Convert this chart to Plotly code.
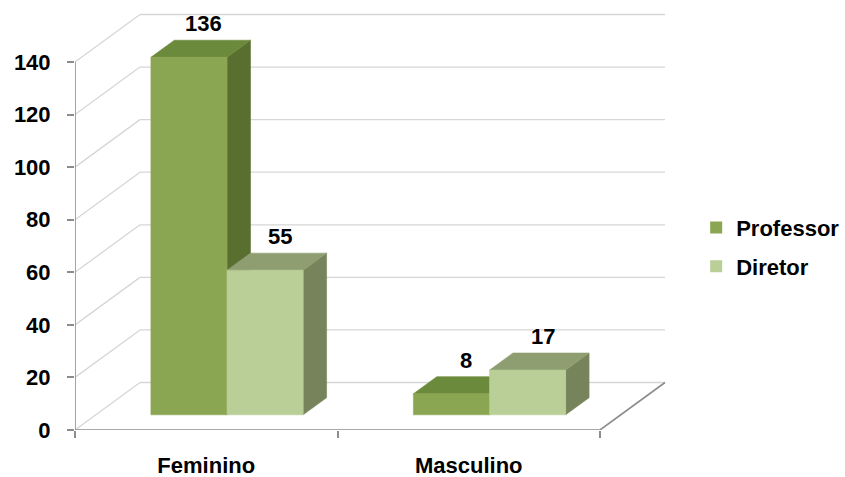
import plotly.graph_objects as go

# ---- data -------------------------------------------------------------
categories = ["Feminino", "Masculino"]
series_names = ["Professor", "Diretor"]
professor = [136, 8]
diretor = [55, 17]
y_ticks = [0, 20, 40, 60, 80, 100, 120, 140]

# ---- styling ----------------------------------------------------------
# face colours per series: (front, top, side)
face_colors = {
    "Professor": ("#8BA652", "#6C8A3B", "#586F2F"),
    "Diretor": ("#B9CF97", "#8E9E70", "#77845B"),
}
GRID = "#D6D6D6"
AXIS = "#8C8C8C"
FONT = dict(family="Liberation Sans, Arial, sans-serif", size=22, color="#000000", weight="bold")

# oblique projection: a point at depth d (0 = front plane, 1 = back wall)
# is shifted right and up in axis units
DEPTH_X = 0.2476
DEPTH_Y = 18.07
BAR_D0, BAR_D1 = 0.32, 0.68
BAR_W = 0.29
LABEL_D = 0.55


def proj(x, v, d):
    return x + d * DEPTH_X, v + d * DEPTH_Y


def polygon(points):
    xs, ys = [], []
    for x, v, d in points:
        px, py = proj(x, v, d)
        xs.append(px)
        ys.append(py)
    xs.append(xs[0])
    ys.append(ys[0])
    return xs, ys


def segments(pairs):
    xs, ys = [], []
    for a, b in pairs:
        for p in (a, b):
            px, py = proj(*p)
            xs.append(px)
            ys.append(py)
        xs.append(None)
        ys.append(None)
    return xs, ys


fig = go.Figure()
n_cat = len(categories)

# walls: gridlines on the side wall and the back wall
grid_pairs = []
for v in y_ticks:
    grid_pairs.append(((0, v, 0), (0, v, 1)))
    grid_pairs.append(((0, v, 1), (n_cat, v, 1)))
gx, gy = segments(grid_pairs)
fig.add_trace(go.Scatter(x=gx, y=gy, mode="lines", line=dict(color=GRID, width=1.3),
                         hoverinfo="skip", showlegend=False, cliponaxis=False))

# floor edge on the right and the two front axis lines
ex, ey = segments([((n_cat, 0, 0), (n_cat, 0, 1)),
                   ((0, 0, 0), (0, y_ticks[-1], 0)),
                   ((0, 0, 0), (n_cat, 0, 0))])
fig.add_trace(go.Scatter(x=ex, y=ey, mode="lines", line=dict(color=AXIS, width=1.6),
                         hoverinfo="skip", showlegend=False, cliponaxis=False))

# 3-D bars, drawn back to front so nearer faces cover farther ones
series_values = {"Professor": professor, "Diretor": diretor}
for i in range(n_cat):
    for s, name in enumerate(series_names):
        v = series_values[name][i]
        front_c, top_c, side_c = face_colors[name]
        x0 = i + 0.5 - BAR_W + s * BAR_W
        x1 = x0 + BAR_W
        faces = [
            (side_c, [(x1, 0, BAR_D0), (x1, 0, BAR_D1), (x1, v, BAR_D1), (x1, v, BAR_D0)]),
            (top_c, [(x0, v, BAR_D0), (x1, v, BAR_D0), (x1, v, BAR_D1), (x0, v, BAR_D1)]),
            (front_c, [(x0, 0, BAR_D0), (x1, 0, BAR_D0), (x1, v, BAR_D0), (x0, v, BAR_D0)]),
        ]
        for color, pts in faces:
            px, py = polygon(pts)
            fig.add_trace(go.Scatter(x=px, y=py, mode="lines", fill="toself",
                                     fillcolor=color, line=dict(color=color, width=0.6),
                                     hoverinfo="skip", showlegend=False))
        lx, ly = proj((x0 + x1) / 2, v, LABEL_D)
        fig.add_annotation(x=lx, y=ly, text=str(v), showarrow=False,
                           xanchor="center", yanchor="bottom", yshift=8, font=FONT)

# legend entries
for name in series_names:
    fig.add_trace(go.Bar(x=[None], y=[None], name=name, legendgroup=name,
                         marker=dict(color=face_colors[name][0], line=dict(width=0))))

PX_PER_UNIT = (430 - 62) / 140
plot_h = 425
fig.update_layout(
    width=845, height=477,
    margin=dict(l=75, r=140, t=477 - 47 - plot_h, b=47, autoexpand=False),
    paper_bgcolor="#FFFFFF", plot_bgcolor="#FFFFFF",
    font=FONT,
    showlegend=True,
    legend=dict(x=0.986, xanchor="left", y=0.43, yanchor="middle",
                traceorder="grouped", tracegroupgap=7, font=FONT,
                bgcolor="rgba(0,0,0,0)", itemclick=False, itemdoubleclick=False),
    xaxis=dict(type="linear", range=[0, 2.4], showgrid=False, zeroline=False, showline=False,
               tickmode="array", tickvals=[i + 0.5 for i in range(n_cat)], ticktext=categories,
               ticks="", ticklabelstandoff=20, automargin=False, fixedrange=True,
               minor=dict(tickmode="array", tickvals=list(range(n_cat + 1)), ticks="outside",
                          ticklen=7, tickwidth=1.6, tickcolor=AXIS, showgrid=False)),
    yaxis=dict(type="linear", range=[0, plot_h / PX_PER_UNIT], showgrid=False, zeroline=False,
               showline=False, tickmode="array", tickvals=y_ticks, ticks="outside",
               ticklen=7, tickwidth=1.6, tickcolor=AXIS, ticklabelstandoff=12,
               automargin=False, fixedrange=True),
)

fig.write_html("out.html")
